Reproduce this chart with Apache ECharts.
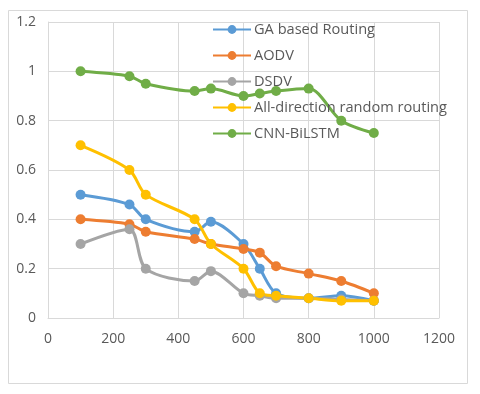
<!DOCTYPE html>
<html>
<head>
<meta charset="utf-8">
<script src="https://cdn.jsdelivr.net/npm/echarts@6/dist/echarts.min.js"></script>
<style>
  html, body { margin: 0; padding: 0; background: #fff; }
  #main { width: 480px; height: 394px; }
</style>
</head>
<body>
<div id="main"></div>
<script>
var xValues = [100, 250, 300, 450, 500, 600, 650, 700, 800, 900, 1000];
var gaRouting = [0.50, 0.46, 0.40, 0.35, 0.39, 0.30, 0.20, 0.10, 0.08, 0.09, 0.07];
var aodv = [0.40, 0.38, 0.35, 0.32, 0.30, 0.28, 0.265, 0.21, 0.18, 0.15, 0.10];
var dsdv = [0.30, 0.36, 0.20, 0.15, 0.19, 0.10, 0.09, 0.08, 0.08, 0.075, 0.07];
var allDirection = [0.70, 0.60, 0.50, 0.40, 0.30, 0.20, 0.10, 0.09, 0.08, 0.07, 0.07];
var cnnBiLstm = [1.00, 0.98, 0.95, 0.92, 0.93, 0.90, 0.91, 0.92, 0.93, 0.80, 0.75];

var seriesNames = ['GA based Routing', 'AODV', 'DSDV', 'All-direction random routing', 'CNN-BiLSTM'];
var seriesData = [gaRouting, aodv, dsdv, allDirection, cnnBiLstm];
var colors = ['#5B9BD5', '#ED7D31', '#A5A5A5', '#FFC000', '#70AD47'];

function pairs(ys) {
  return xValues.map(function (x, i) { return [x, ys[i]]; });
}

var chartDom = document.getElementById('main');
var myChart = echarts.init(chartDom, null, { renderer: 'canvas' });

var option = {
  animation: false,
  color: colors,
  backgroundColor: '#fff',
  graphic: [{
    type: 'rect',
    shape: { x: 8.5, y: 10.5, width: 459, height: 373 },
    style: { fill: 'none', stroke: '#d9d9d9', lineWidth: 1 },
    silent: true
  }],
  legend: {
    orient: 'vertical',
    left: 207,
    top: 17,
    itemWidth: 38,
    itemHeight: 11,
    itemGap: 11,
    textStyle: { color: '#595959', fontSize: 14.6, fontFamily: 'Open Sans', padding: [0, 0, 0, -2] },
    data: seriesNames
  },
  grid: {
    left: 48,
    right: 41,
    top: 22,
    bottom: 76,
    containLabel: false
  },
  xAxis: {
    type: 'value',
    min: 0,
    max: 1200,
    interval: 200,
    axisLine: { show: true, lineStyle: { color: '#d9d9d9' } },
    axisTick: { show: false },
    axisLabel: {
      color: '#595959', fontSize: 14, fontFamily: 'Open Sans', margin: 14,
      formatter: function (v) { return String(v); }
    },
    splitLine: { show: true, lineStyle: { color: '#d9d9d9' } }
  },
  yAxis: {
    type: 'value',
    min: 0,
    max: 1.2,
    interval: 0.2,
    axisLine: { show: true, lineStyle: { color: '#d9d9d9' } },
    axisTick: { show: false },
    axisLabel: { color: '#595959', fontSize: 14, fontFamily: 'Open Sans', margin: 12 },
    splitLine: { show: true, lineStyle: { color: '#d9d9d9' } }
  },
  series: seriesNames.map(function (name, i) {
    return {
      name: name,
      type: 'line',
      smooth: 0.3,
      symbol: 'circle',
      symbolSize: 10,
      lineStyle: { width: 3, color: colors[i] },
      itemStyle: { color: colors[i] },
      data: pairs(seriesData[i])
    };
  })
};

option && myChart.setOption(option);
window.addEventListener('resize', myChart.resize);
</script>
</body>
</html>
